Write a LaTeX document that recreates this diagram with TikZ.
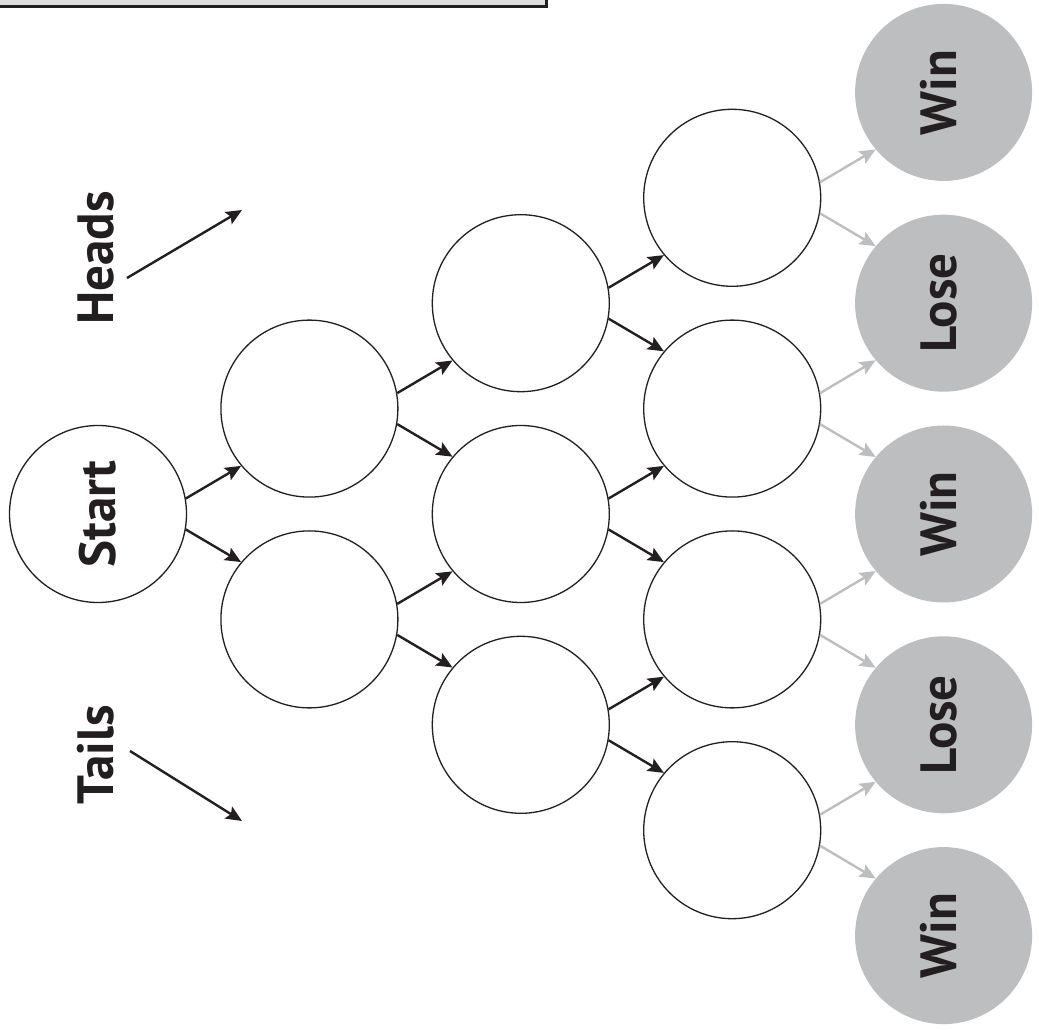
\documentclass[tikz,border=0pt]{standalone}
\usepackage{fontspec}
\setmainfont{PT Sans}
\usetikzlibrary{arrows.meta}
\definecolor{ink}{HTML}{231F20}
\definecolor{outcome}{HTML}{BCBEC0}
\definecolor{panel}{HTML}{DCDDDE}
\begin{document}
\begin{tikzpicture}[x=1pt,y=1pt,
  state/.style={circle,draw=ink,line width=1.3pt,minimum size=177pt,inner sep=0pt},
  result/.style={circle,fill=outcome,minimum size=177pt,inner sep=0pt},
  lbl/.style={rotate=90,font=\fontsize{51}{51}\selectfont\bfseries,text=ink,inner sep=0pt},
  move/.style={draw=ink,line width=2.4pt,-{Stealth[length=16pt,width=14pt,inset=3pt]}},
  fade/.style={draw=outcome,line width=2.4pt,-{Stealth[length=16pt,width=14pt,inset=3pt]}}]
\useasboundingbox (0,0) rectangle (1039,1029);
\fill[white] (0,0) rectangle (1039,1029);
% header panel
\draw[fill=panel,draw=ink,line width=3pt] (-5,1022.5) rectangle (546,1040);

% tree of states
\node[state] (s) at (98,515) {};
\node[lbl,anchor=base] at (115,515) {Start};

\node[state] (a1) at (309.4,620.4) {};
\node[state] (a2) at (309.4,409.6) {};

\node[state] (b1) at (520.8,725.8) {};
\node[state] (b2) at (520.8,515) {};
\node[state] (b3) at (520.8,304.2) {};

\node[state] (c1) at (732.2,831.2) {};
\node[state] (c2) at (732.2,620.4) {};
\node[state] (c3) at (732.2,409.6) {};
\node[state] (c4) at (732.2,198.8) {};

\node[result] (d1) at (943.6,936.6) {};
\node[result] (d2) at (943.6,725.8) {};
\node[result] (d3) at (943.6,515) {};
\node[result] (d4) at (943.6,304.2) {};
\node[result] (d5) at (943.6,93.4) {};
\node[lbl,anchor=base] at (956,936.6) {Win};
\node[lbl,anchor=base] at (956,725.8) {Lose};
\node[lbl,anchor=base] at (956,515) {Win};
\node[lbl,anchor=base] at (956,304.2) {Lose};
\node[lbl,anchor=base] at (956,93.4) {Win};

% legend
\node[lbl,anchor=base] at (113,771) {Heads};
\node[lbl,anchor=base] at (113,274) {Tails};
\coordinate (h0) at (127,751);
\coordinate (h1) at (242,819);
\coordinate (t0) at (130,278);
\coordinate (t1) at (242,208);
\draw[move] (h0) -- (h1);
\draw[move] (t0) -- (t1);

% moves: heads goes up, tails goes down
\foreach \u/\v in {s/a1,a1/b1,a2/b2,b1/c1,b2/c2,b3/c3}
  \draw[move] (\u.10) -- (\v.220);
\foreach \u/\v in {s/a2,a1/b2,a2/b3,b1/c2,b2/c3,b3/c4}
  \draw[move] (\u.-10) -- (\v.140);
\foreach \u/\v in {c1/d1,c2/d2,c3/d3,c4/d4}
  \draw[fade] (\u.10) -- (\v.220);
\foreach \u/\v in {c1/d2,c2/d3,c3/d4,c4/d5}
  \draw[fade] (\u.-10) -- (\v.140);
\end{tikzpicture}
\end{document}
